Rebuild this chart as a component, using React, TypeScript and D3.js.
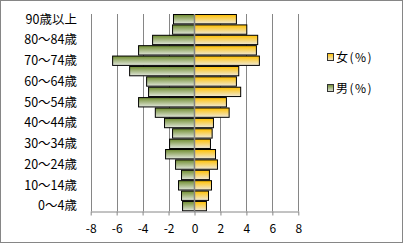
import React, { useEffect, useRef } from 'react'
import * as d3 from 'd3'

// bottom (0〜4歳) to top (90歳以上)
const ageGroups: string[] = [
    '0〜4歳', '5〜9歳', '10〜14歳', '15〜19歳', '20〜24歳', '25〜29歳', '30〜34歳',
    '35〜39歳', '40〜44歳', '45〜49歳', '50〜54歳', '55〜59歳', '60〜64歳', '65〜69歳',
    '70〜74歳', '75〜79歳', '80〜84歳', '85〜89歳', '90歳以上',
]
const malePct: number[] = [
    -0.92, -1.0, -1.23, -1.0, -1.46, -2.23, -1.92, -1.69, -2.31, -3.02,
    -4.31, -3.54, -3.69, -5.0, -6.31, -4.31, -3.23, -1.69, -1.62,
]
const femalePct: number[] = [
    0.92, 1.08, 1.31, 1.15, 1.77, 1.62, 1.23, 1.36, 1.46, 2.67,
    2.46, 3.56, 3.23, 3.41, 5.0, 4.77, 4.87, 4.03, 3.23,
]
const xTicks: number[] = [-8, -6, -4, -2, 0, 2, 4, 6, 8]
const seriesNames: string[] = ['女(%)', '男(%)']

const W = 407
const H = 248
const plot = { left: 90.7, right: 298.3, top: 14, bottom: 211.3 }
const font = '"Noto Sans CJK JP", "Noto Sans", sans-serif'
const grid = '#868686'

export default function App() {
    const ref = useRef<SVGSVGElement>(null)

    useEffect(() => {
        const svg = d3.select(ref.current)
        svg.selectAll('*').remove()

        const defs = svg.append('defs')
        const grad = (id: string, top: string, bottom: string) => {
            const g = defs.append('linearGradient').attr('id', id)
                .attr('x1', 0).attr('y1', 0).attr('x2', 0).attr('y2', 1)
            g.append('stop').attr('offset', '0%').attr('stop-color', top)
            g.append('stop').attr('offset', '100%').attr('stop-color', bottom)
        }
        grad('gMale', '#6f8c2f', '#e2e7dc')
        grad('gFemale', '#ffc000', '#efe9d8')

        // chart border
        svg.append('rect')
            .attr('x', 0.5).attr('y', 0.5)
            .attr('width', 402).attr('height', 242)
            .attr('fill', '#fff').attr('stroke', grid)

        const x = d3.scaleLinear().domain([-8, 8]).range([plot.left, plot.right])
        const y = d3.scaleBand<string>()
            .domain(ageGroups.slice().reverse())
            .range([plot.top, plot.bottom])
            .paddingInner(0.1)
            .paddingOuter(0.05)

        // gridlines
        svg.append('g').selectAll('line')
            .data(xTicks.filter(t => t !== 0))
            .join('line')
            .attr('x1', d => Math.round(x(d)) + 0.5).attr('x2', d => Math.round(x(d)) + 0.5)
            .attr('y1', plot.top).attr('y2', plot.bottom)
            .attr('stroke', grid)

        // bars
        const bars = svg.append('g')
        bars.selectAll('rect.male')
            .data(ageGroups)
            .join('rect')
            .attr('class', 'male')
            .attr('x', (_, i) => x(malePct[i]))
            .attr('y', d => y(d)!)
            .attr('width', (_, i) => x(0) - x(malePct[i]))
            .attr('height', y.bandwidth())
            .attr('fill', 'url(#gMale)')
            .attr('stroke', '#000').attr('stroke-width', 1)
        bars.selectAll('rect.female')
            .data(ageGroups)
            .join('rect')
            .attr('class', 'female')
            .attr('x', x(0))
            .attr('y', d => y(d)!)
            .attr('width', (_, i) => x(femalePct[i]) - x(0))
            .attr('height', y.bandwidth())
            .attr('fill', 'url(#gFemale)')
            .attr('stroke', '#000').attr('stroke-width', 1)

        // category axis at 0
        svg.append('line')
            .attr('x1', x(0)).attr('x2', x(0))
            .attr('y1', plot.top).attr('y2', plot.bottom)
            .attr('stroke', grid).attr('stroke-width', 1.5)

        // x axis
        const xAxis = svg.append('g')
            .attr('transform', `translate(0, ${Math.round(plot.bottom) + 0.5})`)
            .call(d3.axisBottom(x).tickValues(xTicks).tickSize(4).tickSizeOuter(0)
                .tickFormat(d => String(d)))
        xAxis.select('.domain').attr('stroke', grid)
        xAxis.selectAll('.tick line').attr('stroke', grid)
        xAxis.selectAll('.tick text')
            .attr('y', 13)
            .attr('font-family', font).attr('font-size', 12).attr('fill', '#000')

        // category labels (every other one)
        svg.append('g').selectAll('text')
            .data(ageGroups.filter((_, i) => i % 2 === 0))
            .join('text')
            .attr('x', 77)
            .attr('y', d => y(d)! + y.bandwidth() / 2)
            .attr('dy', '0.35em')
            .attr('text-anchor', 'end')
            .attr('font-family', font).attr('font-size', 12.5)
            .text(d => d)

        // legend
        const legend = svg.append('g').selectAll('g')
            .data(seriesNames)
            .join('g')
            .attr('transform', (_, i) => `translate(327, ${57 + i * 31})`)
        legend.append('rect')
            .attr('x', 0.5).attr('y', -3.5).attr('width', 6).attr('height', 7)
            .attr('fill', (_, i) => i === 0 ? 'url(#gFemale)' : 'url(#gMale)')
            .attr('stroke', '#333')
        legend.append('text')
            .attr('x', 9).attr('dy', '0.38em')
            .attr('font-family', font).attr('font-size', 12)
            .attr('letter-spacing', 1.5)
            .text(d => d)
    }, [])

    return (
        <svg ref={ref} width={W} height={H}
            style={{ position: 'fixed', left: 0, top: 0, background: '#fff' }} />
    )
}
